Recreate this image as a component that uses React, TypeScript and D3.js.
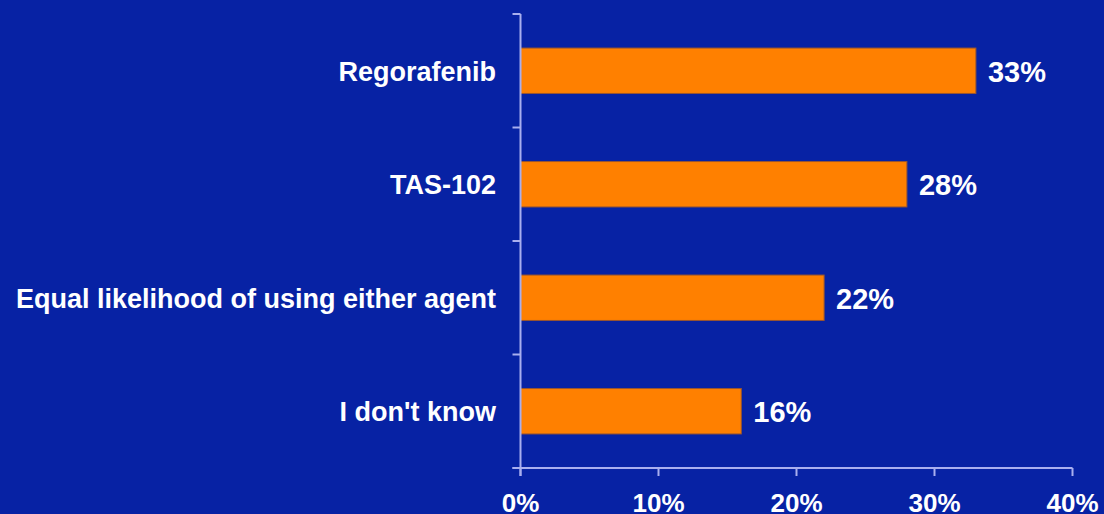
import React from "react";
import * as d3 from "d3";

const categories: string[] = ["Regorafenib", "TAS-102", "Equal likelihood of using either agent", "I don't know"];
const values: number[] = [33, 28, 22, 16];
const xTicks: number[] = [0, 10, 20, 30, 40];

const W = 1104;
const H = 514;
const M = { left: 520.5, right: 31.5, top: 14, bottom: 46 };

export default function App() {
  const x = d3.scaleLinear().domain([0, 40]).range([M.left, W - M.right]);
  const y = d3
    .scaleBand<string>()
    .domain(categories)
    .range([M.top, H - M.bottom])
    .paddingInner(0.6)
    .paddingOuter(0.3);
  const step = y.step();
  const boundaries = d3.range(categories.length + 1).map((i) => M.top + i * step);
  const axisColor = "#a9afef";
  const font = "'Liberation Sans', Arial, Helvetica, sans-serif";
  const y0 = H - M.bottom;

  return (
    <svg
      width={W}
      height={H}
      style={{ position: "absolute", left: 0, top: 0, display: "block" }}
      fontFamily={font}
      fontWeight="bold"
    >
      <rect x={0} y={0} width={W} height={H} fill="#0722a4" />
      {categories.map((c, i) => (
        <g key={c}>
          <rect
            x={x(0)}
            y={y(c)!}
            width={x(values[i]) - x(0)}
            height={y.bandwidth()}
            fill="#ff8000"
            stroke="#9a5630"
            strokeWidth={1}
          />
          <text
            x={x(values[i]) + 12}
            y={y(c)! + y.bandwidth() / 2 + 11}
            fill="#ffffff"
            fontSize={29}
          >
            {values[i]}%
          </text>
          <text
            x={496}
            y={y(c)! + y.bandwidth() / 2 + 10}
            fill="#ffffff"
            fontSize={27}
            textAnchor="end"
          >
            {c}
          </text>
        </g>
      ))}
      {/* y axis */}
      <line x1={x(0)} x2={x(0)} y1={M.top} y2={y0 + 8} stroke={axisColor} strokeWidth={2} />
      {boundaries.map((b, i) => (
        <line key={i} x1={x(0) - 8} x2={x(0)} y1={b} y2={b} stroke={axisColor} strokeWidth={2} />
      ))}
      {/* x axis */}
      <line x1={x(0) - 8} x2={x(40)} y1={y0} y2={y0} stroke={axisColor} strokeWidth={2} />
      {xTicks.map((t) => (
        <g key={t}>
          <line x1={x(t)} x2={x(t)} y1={y0} y2={y0 + 8} stroke={axisColor} strokeWidth={2} />
          <text x={x(t)} y={512} fill="#ffffff" fontSize={26} textAnchor="middle">
            {t}%
          </text>
        </g>
      ))}
    </svg>
  );
}
